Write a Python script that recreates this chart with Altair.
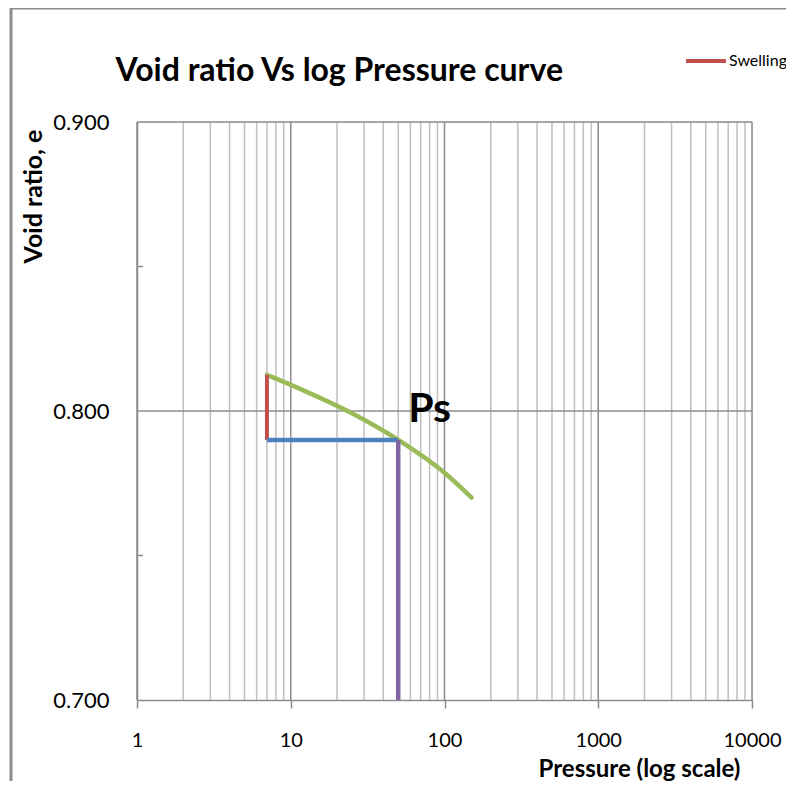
import altair as alt
import pandas as pd

# Data
curve_p = [7, 12.5, 25, 50, 100, 150]
curve_e = [0.8125, 0.8068, 0.7992, 0.7900, 0.7786, 0.7700]
swell_p = [7, 7]
swell_e = [0.8125, 0.790]
horiz_p = [7, 50]
horiz_e = [0.790, 0.790]
vert_p = [50, 50]
vert_e = [0.790, 0.700]
ps_label = ["Ps"]
ps_p = [58]
ps_e = [0.7962]

major_x = [1, 10, 100, 1000, 10000]
minor_x = [2, 3, 4, 5, 6, 7, 8, 9,
           20, 30, 40, 50, 60, 70, 80, 90,
           200, 300, 400, 500, 600, 700, 800, 900,
           2000, 3000, 4000, 5000, 6000, 7000, 8000, 9000]
major_y = [0.8, 0.9]
minor_y = [0.75, 0.85]
y_ticks = [0.7, 0.8, 0.9]

FONT = "Lato"
GRAY = "#8C8C8C"
xs = alt.Scale(type="log", domain=[1, 10000])
ys = alt.Scale(domain=[0.7, 0.9], zero=False)

X_AX = alt.Axis(
    values=major_x, grid=False, ticks=True, tickSize=8, tickColor=GRAY,
    tickWidth=1.5, domainColor=GRAY, domainWidth=1.5,
    labelFont=FONT, labelFontSize=20, labelColor="#000000", labelPadding=22,
    labelFlush=False, format="d",
    title="Pressure (log scale)", titleFont=FONT, titleFontSize=24,
    titleFontWeight="bold", titleColor="#000000", titleX=502, titleY=69,
    titleAlign="center", titleBaseline="middle")
Y_AX = alt.Axis(
    values=y_ticks, format=".3f", grid=False, ticks=False,
    domainColor=GRAY, domainWidth=1.5,
    labelFont=FONT, labelFontSize=22, labelColor="#000000", labelPadding=28,
    title="Void ratio, e", titleFont=FONT, titleFontSize=25,
    titleFontWeight="bold", titleColor="#000000", titleX=-104, titleY=74,
    titleAngle=270, titleAlign="center", titleBaseline="middle")


def X():
    return alt.X("p:Q", scale=xs, axis=X_AX)


def Y():
    return alt.Y("e:Q", scale=ys, axis=Y_AX)


minor_grid = alt.Chart(pd.DataFrame({"p": minor_x})).mark_rule(
    color="#BFBFBF", strokeWidth=1.5
).encode(x=X())

major_grid = alt.Chart(pd.DataFrame({"p": major_x})).mark_rule(
    color=GRAY, strokeWidth=1.5
).encode(x=X())

h_grid = alt.Chart(pd.DataFrame({"e": major_y})).mark_rule(
    color=GRAY, strokeWidth=1.5
).encode(y=Y())

y_minor_ticks = alt.Chart(pd.DataFrame({"e": minor_y})).mark_rule(
    color=GRAY, strokeWidth=1.5
).encode(y=Y(), x=alt.value(0), x2=alt.value(6))

curve = alt.Chart(pd.DataFrame({"p": curve_p, "e": curve_e})).mark_line(
    color="#9BBB59", strokeWidth=4.5, interpolate="monotone", strokeCap="round"
).encode(x=X(), y=Y())

swell = alt.Chart(pd.DataFrame({"p": swell_p, "e": swell_e, "s": ["Swelling"] * 2})).mark_line(
    strokeWidth=4
).encode(
    x=X(), y=Y(),
    color=alt.Color("s:N", scale=alt.Scale(domain=["Swelling"], range=["#C0504D"]),
                    legend=alt.Legend(title=None, orient="none", legendX=547, legendY=-83,
                                      symbolType="stroke", symbolSize=1600,
                                      symbolStrokeWidth=4, labelFont=FONT,
                                      labelFontSize=16, labelColor="#000000",
                                      labelOffset=1, padding=0)),
)

horiz = alt.Chart(pd.DataFrame({"p": horiz_p, "e": horiz_e})).mark_line(
    color="#4F81BD", strokeWidth=4.5
).encode(x=X(), y=Y())

vert = alt.Chart(pd.DataFrame({"p": vert_p, "e": vert_e})).mark_line(
    color="#8064A2", strokeWidth=4.5
).encode(x=X(), y=Y())

ps = alt.Chart(pd.DataFrame({"p": ps_p, "e": ps_e, "t": ps_label})).mark_text(
    font=FONT, fontSize=41, fontWeight="bold", align="left", baseline="alphabetic",
    color="#000000"
).encode(x=X(), y=Y(), text="t:N")

# chart-area frame (decoration)
frame_left = alt.Chart(pd.DataFrame({"a": [0]})).mark_rule(
    color=GRAY, strokeWidth=3
).encode(x=alt.value(-126), y=alt.value(-114), y2=alt.value(680))
frame_top = alt.Chart(pd.DataFrame({"a": [0]})).mark_rule(
    color=GRAY, strokeWidth=3
).encode(x=alt.value(-127), x2=alt.value(700), y=alt.value(-114))

chart = alt.layer(
    minor_grid, major_grid, h_grid, y_minor_ticks,
    curve, swell, horiz, vert, ps, frame_left, frame_top
).properties(
    width=615, height=578,
    title=alt.TitleParams("Void ratio Vs log Pressure curve", font=FONT, fontSize=32,
                          fontWeight="bold", color="#000000", anchor="start",
                          dx=107, offset=0, dy=81),
    autosize=alt.AutoSizeParams(type="none"),
    padding={"left": 129, "top": 114, "right": 34, "bottom": 81},
).configure_view(stroke=None).configure(background="white")

chart.save("out.html", embed_options={"renderer": "svg", "actions": False})
